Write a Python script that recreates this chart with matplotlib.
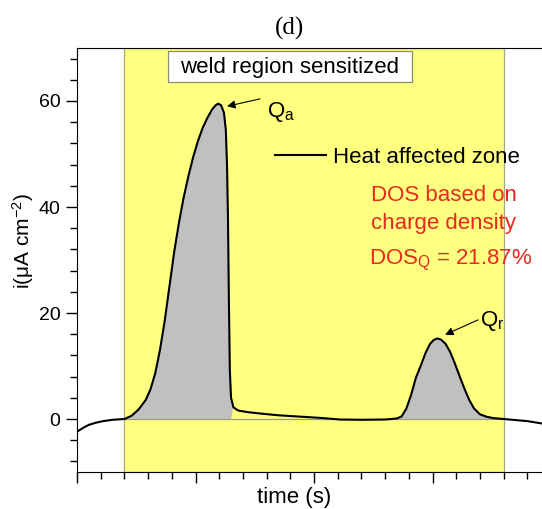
import numpy as np
import matplotlib
matplotlib.use('Agg')
from matplotlib import pyplot as plt
from matplotlib.ticker import MultipleLocator, NullFormatter
from matplotlib.patches import Rectangle

# curve (time in arbitrary units, current in uA cm-2)
time = np.array([0, 0.25, 0.5, 0.8, 1.1, 1.5, 2.0, 2.3, 2.6, 2.9, 3.1, 3.3, 3.5, 3.7,
                 3.9, 4.1, 4.3, 4.5, 4.7, 4.9, 5.1, 5.3, 5.5, 5.7, 5.85, 5.96, 6.08,
                 6.2, 6.28, 6.33, 6.37, 6.41, 6.45, 6.5, 6.6, 6.8, 7.2, 7.8, 8.5, 9.4,
                 10.3, 11.1, 12.0, 13.0, 13.5, 13.7, 13.9, 14.1, 14.3, 14.5, 14.7,
                 14.9, 15.05, 15.2, 15.35, 15.55, 15.75, 15.95, 16.15, 16.35, 16.55,
                 16.75, 17.0, 17.3, 17.6, 18.0, 18.5, 19.0, 19.7])
current = np.array([-2.4, -1.7, -1.1, -0.7, -0.4, -0.15, 0.0, 0.6, 1.8, 3.6, 5.6, 8.6,
                    13.0, 18.5, 25.0, 31.5, 37.0, 41.8, 45.8, 49.4, 52.4, 54.9, 56.8,
                    58.4, 59.2, 59.5, 59.2, 57.8, 54.5, 48.0, 38.0, 22.0, 9.0, 4.0, 2.2,
                    1.6, 1.3, 1.0, 0.7, 0.45, 0.2, -0.1, -0.15, -0.1, 0.1, 0.5, 2.0,
                    4.6, 7.8, 10.0, 12.4, 14.2, 14.9, 15.2, 15.0, 14.2, 12.6, 10.4, 8.0,
                    5.7, 3.6, 2.0, 0.9, 0.4, 0.15, 0.0, -0.2, -0.4, -0.9])

weld_region = (2.0, 18.0)
peak_a = (2.0, 6.5)
peak_r = (13.5, 18.0)
dos_q = 21.87

plt.rcParams['font.family'] = ['Liberation Sans', 'DejaVu Sans']
plt.rcParams['mathtext.fontset'] = 'custom'
plt.rcParams['mathtext.rm'] = 'Liberation Sans'
plt.rcParams['mathtext.it'] = 'Liberation Sans'

fig = plt.figure(figsize=(5.42, 5.09), dpi=100)
ax = fig.add_axes([77 / 542, 37 / 509, 474 / 542, 424 / 509])

ax.set_xlim(0, 20)
ax.set_ylim(-10, 70)

# yellow band
ax.axvspan(weld_region[0], weld_region[1], facecolor='#FFFF80', edgecolor='#A8A878',
           lw=0.9, zorder=0)
ax.hlines(0, weld_region[0], weld_region[1], color='#9C9C80', lw=0.9, zorder=1)

mask = ((time >= peak_a[0]) & (time <= peak_a[1])) | ((time >= peak_r[0]) & (time <= peak_r[1]))
ax.fill_between(time, current, 0, where=mask & (current > 0), facecolor='#C0C0C0',
                edgecolor='none', interpolate=True, zorder=1)
ax.plot(time, current, color='black', lw=1.5, label='Heat affected zone', zorder=3)

ax.legend(loc='center left', bbox_to_anchor=(8.35, 49.4),
          bbox_transform=ax.transData, borderpad=0, borderaxespad=0,
          handlelength=2.3, handletextpad=0.3, frameon=False, fontsize=16)

# weld region label box
ax.add_patch(Rectangle((0.192, 0.92), 0.515, 0.073, transform=ax.transAxes,
                       facecolor='white', edgecolor='#8C8C70', lw=0.9, zorder=4))
ax.text(0.449, 0.955, 'weld region sensitized', transform=ax.transAxes,
        ha='center', va='center', fontsize=16, zorder=5)

# peak annotations
ax.annotate('', xy=(6.33, 59.0), xytext=(7.72, 60.4),
            arrowprops=dict(arrowstyle='-|>', color='black', lw=0.8,
                            mutation_scale=12, shrinkA=0, shrinkB=0))
ax.text(8.02, 57.0, 'Q$_\\mathregular{a}$', fontsize=16, va='baseline')
ax.annotate('', xy=(15.53, 15.9), xytext=(16.92, 18.7),
            arrowprops=dict(arrowstyle='-|>', color='black', lw=0.8,
                            mutation_scale=12, shrinkA=0, shrinkB=0))
ax.text(17.0, 17.6, 'Q$_\\mathregular{r}$', fontsize=16, va='baseline')

red = '#E62A20'
ax.text(12.4, 41.1, 'DOS based on', color=red, fontsize=16, va='baseline')
ax.text(12.4, 35.9, 'charge density', color=red, fontsize=16, va='baseline')
ax.text(12.3, 29.1, 'DOS$_\\mathregular{Q}$ = %.2f%%' % dos_q, color=red, fontsize=16,
        va='baseline')

# axes styling
ax.spines['right'].set_visible(False)
ax.xaxis.set_major_locator(MultipleLocator(5))
ax.xaxis.set_minor_locator(MultipleLocator(1))
ax.xaxis.set_major_formatter(NullFormatter())
ax.yaxis.set_major_locator(MultipleLocator(20))
ax.yaxis.set_minor_locator(MultipleLocator(4))
ax.tick_params(which='major', length=8, width=1, direction='out', labelsize=14, pad=4)
ax.tick_params(which='minor', length=5, width=1, direction='out')
ax.tick_params(top=False, right=False, which='both')

ax.set_xlabel('time (s)', fontsize=16)
ax.xaxis.set_label_coords(0.459, -0.061)
ax.xaxis.label.set_va('center')
ax.set_ylabel('i(\u03bcA cm$^{-2}$)', fontsize=15)
ax.yaxis.set_label_coords(-0.114, 0.545)
ax.yaxis.label.set_va('center')

fig.text(290 / 542, 1 - 28 / 509, '(d)', family='Liberation Serif', fontsize=18,
         ha='center', va='center')

fig.savefig('out.png', dpi=100)
